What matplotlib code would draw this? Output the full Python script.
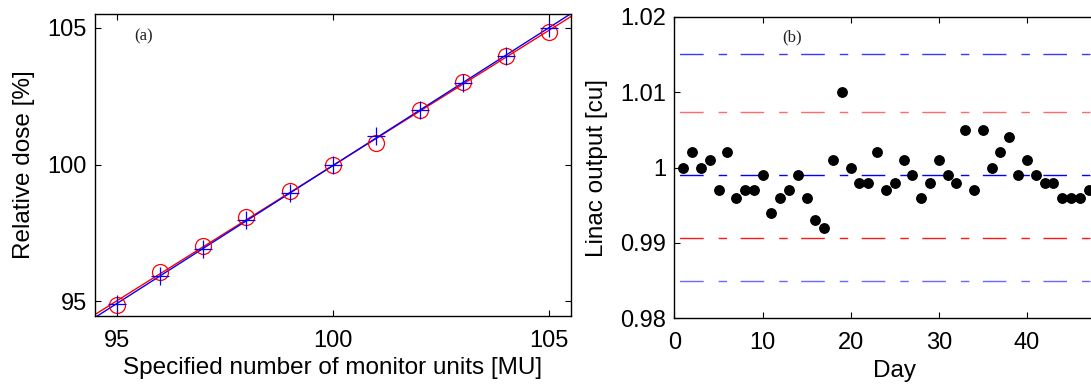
import matplotlib.pyplot as plt
import numpy as np

plt.rcParams['font.family'] = ['Liberation Sans', 'DejaVu Sans']
plt.rcParams['lines.scale_dashes'] = False

# panel (a): dose linearity
mu = [95, 96, 97, 98, 99, 100, 101, 102, 103, 104, 105]
dose_red = [94.85, 96.07, 97.02, 98.08, 99.03, 100.0, 100.79, 101.98, 103.01, 103.96, 104.84]
dose_blue = [94.88, 95.91, 96.92, 97.98, 98.97, 99.97, 101.03, 101.98, 102.99, 103.99, 105.0]

# panel (b): daily linac output
days = list(range(1, 48))
output = [1.000, 1.002, 1.000, 1.001, 0.997, 1.002, 0.996, 0.997, 0.997, 0.999,
          0.994, 0.996, 0.997, 0.999, 0.996, 0.993, 0.992, 1.001, 1.010, 1.000,
          0.998, 0.998, 1.002, 0.997, 0.998, 1.001, 0.999, 0.996, 0.998, 1.001,
          0.999, 0.998, 1.005, 0.997, 1.005, 1.000, 1.002, 1.004, 0.999, 1.001,
          0.999, 0.998, 0.998, 0.996, 0.996, 0.996, 0.997]
limit_levels = [1.015, 1.0073, 0.9990, 0.9907, 0.985]
limit_colors = ['#3a3aff', '#ff6a6a', '#0000ff', '#ff1a1a', '#6a6aff']

fig = plt.figure(figsize=(10.91, 3.85), dpi=100)

ax1 = fig.add_axes([0.0871, 0.180, 0.4363, 0.7829])
xs = np.array([94.5, 105.5])
for y, c in [(dose_red, 'red'), (dose_blue, 'blue')]:
    k, b = np.polyfit(mu, y, 1)
    ax1.plot(xs, k * xs + b, color=c, lw=1.0)
ax1.plot(mu, dose_red, 'o', ms=11.5, mfc='none', mec='red', mew=0.9)
ax1.plot(mu, dose_blue, '+', ms=13, color='blue', mew=0.9)
ax1.set_xlim(94.5, 105.5)
ax1.set_ylim(94.47, 105.5)
ax1.set_xticks([95, 100, 105])
ax1.set_yticks([95, 100, 105])
ax1.set_xlabel('Specified number of monitor units [MU]', fontsize=17.5, labelpad=4)
ax1.set_ylabel('Relative dose [%]', fontsize=17.5, labelpad=9)
ax1.text(95.62, 104.7, '(a)', family='Liberation Serif', fontsize=12,
         color='#222222', ha='center', va='center')

ax2 = fig.add_axes([0.6182, 0.1732, 0.4038, 0.7834])
for lev, c in zip(limit_levels, limit_colors):
    ax2.plot([0, 50], [lev, lev], color=c, lw=1.0,
             linestyle=(39.6, (17.0, 10.8, 6.1, 9.7)))
ax2.plot(days, output, 'o', color='black', ms=6.8)
ax2.set_xlim(0, 50)
ax2.set_ylim(0.98, 1.02)
ax2.set_xticks([0, 10, 20, 30, 40])
ax2.set_yticks([0.98, 0.99, 1.0, 1.01, 1.02])
ax2.set_yticklabels(['0.98', '0.99', '1', '1.01', '1.02'])
ax2.set_xlabel('Day', fontsize=17.5, labelpad=4)
ax2.set_ylabel('Linac output [cu]', fontsize=17.5, labelpad=9)
ax2.text(13.4, 1.0172, '(b)', family='Liberation Serif', fontsize=12,
         color='#222222', ha='center', va='center')

for ax in (ax1, ax2):
    ax.tick_params(direction='in', top=True, right=True, length=4, width=0.8,
                   labelsize=17, pad=6)
    ax.tick_params(axis='x', pad=10)
    for s in ax.spines.values():
        s.set_linewidth(1.0)

fig.savefig('out.png', dpi=100)
